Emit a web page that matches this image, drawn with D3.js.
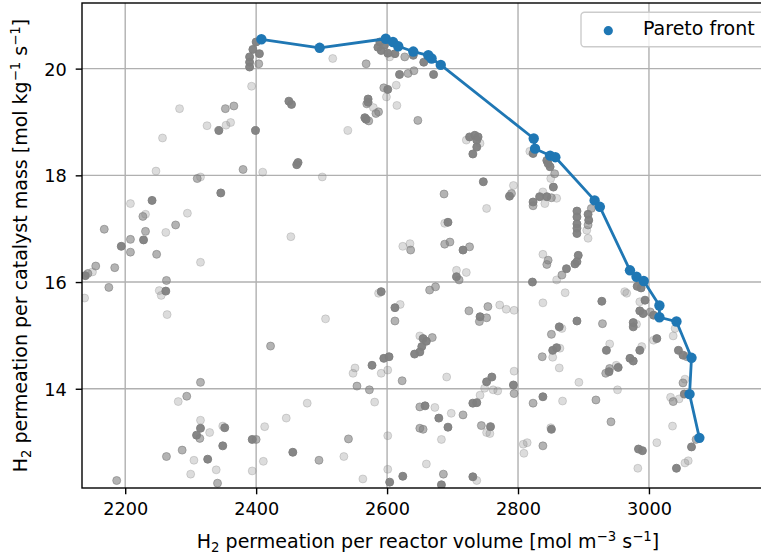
<!DOCTYPE html>
<html>
<head>
<meta charset="utf-8">
<script src="https://cdn.jsdelivr.net/npm/d3@7"></script>
<style>
  body { margin: 0; background: #fff; }
  svg { display: block; font-family: "DejaVu Sans", sans-serif; }
</style>
</head>
<body>
<svg width="761" height="555"></svg>
<script>
// pareto front, in the order the line joins them
const paretoX = [2408, 2497, 2598, 2609, 2617, 2640, 2663, 2668, 2682, 2824, 2826, 2849, 2857,
  2917, 2925, 2971, 2981, 2992, 3016, 3016, 3042, 3065, 3062, 3077]
const paretoY = [20.55, 20.39, 20.56, 20.50, 20.42, 20.32, 20.25, 20.19, 20.07, 18.69, 18.50, 18.37, 18.34,
  17.53, 17.41, 16.22, 16.10, 16.02, 15.56, 15.34, 15.26, 14.58, 13.90, 13.08]

// all evaluated designs: [volume rate, mass rate, shade level 1..3]
const samples = [
  [2400,20.50,3],[2395,20.36,3],[2405,20.28,3],[2390,20.22,3],[2390,20.12,3],[2390,20.03,3],[2404,20.09,2],[2393,19.67,1],
  [2283,19.25,1],[2353,19.25,2],[2366,19.30,2],[2325,18.93,1],[2354,18.94,1],[2361,18.99,1],[2343,18.84,3],[2399,18.84,3],
  [2257,18.70,1],[2380,18.11,2],[2410,18.06,1],[2247,18.08,1],[2310,17.94,2],[2315,17.97,1],[2501,17.97,1],[2346,17.67,3],
  [2208,17.47,1],[2241,17.53,3],[2227,17.23,2],[2231,17.27,1],[2295,17.29,1],[2277,17.07,2],[2262,16.93,1],[2168,16.99,2],
  [2231,16.95,2],[2228,16.79,3],[2208,16.80,2],[2194,16.67,3],[2453,16.85,1],[2450,19.39,3],[2454,19.33,3],[2464,18.24,3],
  [2462,18.20,3],[2517,20.19,1],[2568,20.09,2],
  [2586,20.40,3],[2591,20.34,3],[2589,20.50,3],[2612,20.28,3],[2604,20.22,1],[2627,20.22,2],[2640,20.25,3],[2619,19.89,3],
  [2632,19.91,2],[2641,19.96,2],[2595,19.64,2],[2601,19.61,3],[2614,19.69,1],[2599,19.47,1],[2571,19.43,3],[2571,19.37,3],
  [2569,19.34,2],[2579,19.27,1],[2583,19.16,2],[2587,19.19,2],[2566,19.08,3],[2568,19.05,3],[2572,19.02,2],[2615,19.31,1],
  [2647,19.03,2],[2540,18.84,1],[2671,19.89,3],[2656,20.12,3],[2596,20.44,3],[2601,20.29,3],
  [2726,18.72,3],[2734,18.75,3],[2739,18.72,3],[2737,18.66,3],[2721,18.66,1],[2742,18.60,1],[2737,18.53,3],[2731,18.40,3],
  [2747,17.88,3],[2793,17.81,1],[2787,17.61,3],[2790,17.66,2],[2687,17.65,2],[2752,17.38,1],[2693,17.12,3],[2688,17.10,1],
  [2688,16.71,2],[2696,16.75,2],[2716,16.60,3],[2726,16.66,2],[2624,16.67,1],[2635,16.72,1],[2636,16.60,2],
  [2823,18.41,3],[2844,18.28,3],[2846,18.22,3],[2849,18.16,3],[2856,18.03,2],[2850,17.94,1],[2854,17.78,3],[2838,17.69,1],
  [2844,17.60,3],[2851,17.58,2],[2859,17.57,1],[2841,17.47,1],[2833,17.60,3],[2823,17.50,3],[2823,17.43,2],
  [2890,17.33,3],[2890,17.22,3],[2890,17.09,3],[2890,17.01,3],[2890,16.91,3],[2907,17.27,3],[2908,17.16,3],[2907,17.07,2],
  [2905,16.97,1],[2907,16.82,1],[2912,17.38,2],[2818,18.45,1],
  [2838,16.52,1],[2846,16.41,2],[2844,16.33,2],[2892,16.50,3],[2890,16.38,3],[2887,16.34,3],[2874,16.25,3],[2867,16.13,2],
  [2859,16.04,1],[2822,16.00,3],[2872,15.80,1],[2838,15.61,1],[2928,15.64,3],[2890,15.27,3],[2929,15.22,2],[2863,15.16,3],
  [2851,15.02,2],
  [2963,15.82,1],[2966,15.79,1],[2986,15.63,1],[2994,15.66,3],[2986,15.46,3],[2991,15.41,3],[3002,15.44,2],[3007,15.38,3],
  [2976,15.16,3],[2981,15.21,1],[3012,14.94,3],[3007,14.91,1],[3037,14.99,1],[3040,15.13,1],[3045,14.72,3],[3052,14.63,3],
  [3058,14.60,2],[2940,14.84,1],[2935,14.72,3],[2986,14.72,3],[2989,14.79,1],[2971,14.57,3],[2976,14.52,3],[2940,14.38,2],
  [2950,14.44,1],[2934,14.29,2],[2939,14.32,3],[2953,14.40,3],[2982,15.92,3],[2988,15.89,3],[2867,15.13,1],[2864,14.76,1],
  [2853,14.72,3],[2859,14.77,3],[2837,14.60,2],[2853,14.59,1],[2863,14.39,1],[2976,15.24,3],
  [2706,16.22,1],[2721,16.18,1],[2706,16.10,3],[2710,16.04,2],[2665,15.85,2],[2674,15.91,2],[2725,15.46,2],[2742,15.35,3],
  [2754,15.54,2],[2752,15.33,2],[2741,15.26,2],[2772,15.57,1],[2782,15.49,1],[2794,15.47,1],[2655,14.94,3],[2660,14.89,3],
  [2669,14.96,2],[2653,14.79,3],[2650,14.69,3],[2650,14.99,1],[2691,14.22,1],[2752,14.13,3],[2760,14.22,3],[2749,14.01,1],
  [2762,13.98,1],[2769,13.96,1],[2742,13.88,1],[2793,14.07,3],[2794,13.91,2],[2794,14.33,1],[2658,13.68,3],[2673,13.65,1],
  [2679,13.45,3],[2693,13.28,3],[2698,13.54,1],[2716,13.51,2],[2731,13.73,3],[2737,13.74,3],[2744,13.31,2],[2758,13.29,3],
  [2752,13.18,1],[2757,13.16,1],[2655,13.24,2],[2683,13.05,1],[2660,12.59,1],[2686,12.40,2],[2731,12.35,3],[2737,12.28,1],
  [2683,12.20,3],
  [2823,13.73,2],[2838,13.85,3],[2868,13.77,1],[2808,12.96,1],[2814,12.99,1],[2809,12.79,1],[2838,12.93,2],[2851,13.24,3],
  [2850,13.27,1],[2893,14.12,1],[2919,13.79,2],[2942,13.38,2],[2952,13.98,1],[2984,12.87,3],[2990,12.84,3],[2983,12.51,1],
  [3012,12.99,1],[3036,13.30,1],[3033,13.84,1],[3037,13.76,2],[3046,13.81,1],[3052,14.11,2],[3055,14.18,1],[3054,13.90,3],
  [3065,12.91,3],[3072,13.05,2],[3042,12.51,3],[3055,12.61,1],[3060,12.65,1],
  [2208,16.56,2],[2248,16.52,2],[2315,16.37,1],[2155,16.30,2],[2184,16.27,2],[2150,16.19,1],[2139,16.12,3],[2143,16.16,2],
  [2263,16.03,2],[2262,15.83,3],[2252,15.84,1],[2255,15.75,1],[2264,15.39,1],[2175,15.90,2],[2138,15.70,1],[2506,15.31,1],
  [2422,14.80,2],[2591,15.82,3],[2587,15.79,1],[2612,15.52,3],[2620,15.58,1],[2612,15.27,2],[2642,14.65,3],[2595,14.57,3],
  [2603,14.60,3],[2577,14.44,3],[2551,14.39,1],[2548,14.29,1],[2591,14.29,1],[2601,14.35,1],[2554,14.05,2],[2573,13.98,2],
  [2581,13.75,1],[2623,14.15,2],[2315,14.12,2],[2294,13.86,2],[2281,13.76,1],[2315,13.41,1],[2315,13.26,3],[2309,13.13,3],
  [2314,13.07,2],[2329,13.18,1],[2352,13.27,3],[2349,13.30,1],[2287,12.85,2],[2305,12.66,1],[2326,12.68,3],[2349,12.93,3],
  [2339,12.48,1],[2300,12.40,1],[2341,12.23,2],[2263,12.73,2],[2187,12.28,2],[2394,13.05,3],[2400,13.05,2],[2413,13.29,1],
  [2446,13.45,1],[2478,13.73,1],[2456,12.81,3],[2411,12.64,1],[2394,12.46,1],[2496,12.66,2],[2534,12.73,1],[2541,13.06,2],
  [2563,12.31,1],[2601,13.12,1],[2601,12.49,1],[2604,12.25,3],[2624,12.36,3],[2650,13.66,2],[2650,13.26,2]
]

const xTicks = [2200, 2400, 2600, 2800, 3000]
const yTicks = [14, 16, 18, 20]
const xDomain = [2134, 3191]
const yDomain = [12.14, 21.23]
const legendLabel = 'Pareto front'

const svg = d3.select('svg')
const w = +svg.attr('width')
const h = +svg.attr('height')
const margin = {top: 3, right: -13, bottom: 67, left: 82}   // right edge sits past the canvas
const innerWidth = w - margin.left - margin.right
const innerHeight = h - margin.top - margin.bottom

const blue = '#1f77b4'
const tickSize = 17.7
const labelSize = 19

const xScale = d3.scaleLinear().domain(xDomain).range([0, innerWidth])
const yScale = d3.scaleLinear().domain(yDomain).range([innerHeight, 0])
const shadeOpacity = d3.scaleOrdinal().domain([1, 2, 3]).range([0.28, 0.6, 0.95])

svg.append('defs').append('clipPath').attr('id', 'plot-clip')
  .append('rect').attr('width', innerWidth).attr('height', innerHeight)

const g = svg.append('g')
  .attr('transform', `translate(${margin.left}, ${margin.top})`)

// grid
const grid = g.append('g').attr('stroke', '#b0b0b0').attr('stroke-width', 1.4)
grid.selectAll('.gx').data(xTicks).enter().append('line')
  .attr('x1', d => xScale(d)).attr('x2', d => xScale(d))
  .attr('y1', 0).attr('y2', innerHeight)
grid.selectAll('.gy').data(yTicks).enter().append('line')
  .attr('y1', d => yScale(d)).attr('y2', d => yScale(d))
  .attr('x1', 0).attr('x2', innerWidth)

const plot = g.append('g').attr('clip-path', 'url(#plot-clip)')

plot.append('g').selectAll('circle').data(samples)
  .enter().append('circle')
    .attr('cx', d => xScale(d[0]))
    .attr('cy', d => yScale(d[1]))
    .attr('r', 4)
    .attr('fill', '#808080')
    .attr('fill-opacity', d => shadeOpacity(d[2]))
    .attr('stroke', '#808080')
    .attr('stroke-opacity', d => shadeOpacity(d[2]))
    .attr('stroke-width', 1)

const pareto = paretoX.map((x, i) => ({x, y: paretoY[i]}))

const line = d3.line().x(d => xScale(d.x)).y(d => yScale(d.y))
plot.append('path').datum(pareto)
  .attr('d', line)
  .attr('fill', 'none')
  .attr('stroke', blue)
  .attr('stroke-width', 2.8)
  .attr('stroke-linejoin', 'round')

plot.append('g').selectAll('circle').data(pareto)
  .enter().append('circle')
    .attr('cx', d => xScale(d.x))
    .attr('cy', d => yScale(d.y))
    .attr('r', 5.2)
    .attr('fill', blue)

// frame
g.append('rect')
  .attr('width', innerWidth).attr('height', innerHeight)
  .attr('fill', 'none').attr('stroke', 'black').attr('stroke-width', 1.4)

// axes
const xAxisG = g.append('g')
  .attr('transform', `translate(0, ${innerHeight})`)
  .call(d3.axisBottom(xScale).tickValues(xTicks).tickFormat(d3.format('d'))
    .tickSize(6.3).tickPadding(8.2))
xAxisG.select('.domain').remove()

const yAxisG = g.append('g')
  .call(d3.axisLeft(yScale).tickValues(yTicks).tickFormat(d3.format('d'))
    .tickSize(6.3).tickPadding(9))
yAxisG.select('.domain').remove()
yAxisG.selectAll('.tick text').attr('dy', '0.36em')

g.selectAll('.tick line').attr('stroke', 'black').attr('stroke-width', 1.4)
g.selectAll('.tick text')
  .attr('font-family', '"DejaVu Sans", sans-serif')
  .attr('font-size', tickSize)
  .attr('fill', 'black')

// axis labels with sub- and superscripts
const small = 13.3
const addLabel = (text, parts) => {
  text.attr('font-size', labelSize).attr('fill', 'black')
  let shift = 0
  parts.forEach(([str, kind]) => {
    const target = kind === 'sub' ? 4 : kind === 'sup' ? -7.5 : 0
    text.append('tspan')
      .attr('dy', target - shift)
      .attr('font-size', kind ? small : labelSize)
      .text(str)
    shift = target
  })
}

const xLabel = svg.append('text')
  .attr('x', margin.left + innerWidth / 2)
  .attr('y', 548)
  .attr('text-anchor', 'middle')
addLabel(xLabel, [['H'], ['2', 'sub'], [' permeation per reactor volume [mol m'], ['\u22123', 'sup'], [' s'], ['\u22121', 'sup'], [']']])

const yLabel = svg.append('text')
  .attr('transform', `translate(27, ${margin.top + innerHeight / 2}) rotate(-90)`)
  .attr('text-anchor', 'middle')
addLabel(yLabel, [['H'], ['2', 'sub'], [' permeation per catalyst mass [mol kg'], ['\u22121', 'sup'], [' s'], ['\u22121', 'sup'], [']']])

// legend
const legend = svg.append('g')
  .attr('transform', `translate(${margin.left + innerWidth - 193}, ${margin.top + 9.3})`)
legend.append('rect')
  .attr('width', 186).attr('height', 34.4).attr('rx', 3.5)
  .attr('fill', 'white').attr('fill-opacity', 0.8)
  .attr('stroke', '#cccccc').attr('stroke-width', 1.4)
legend.append('circle')
  .attr('cx', 27.3).attr('cy', 18.4).attr('r', 4.6).attr('fill', blue)
legend.append('text')
  .attr('x', 62).attr('y', 22.7)
  .attr('font-size', labelSize).attr('fill', 'black')
  .text(legendLabel)
</script>
</body>
</html>
